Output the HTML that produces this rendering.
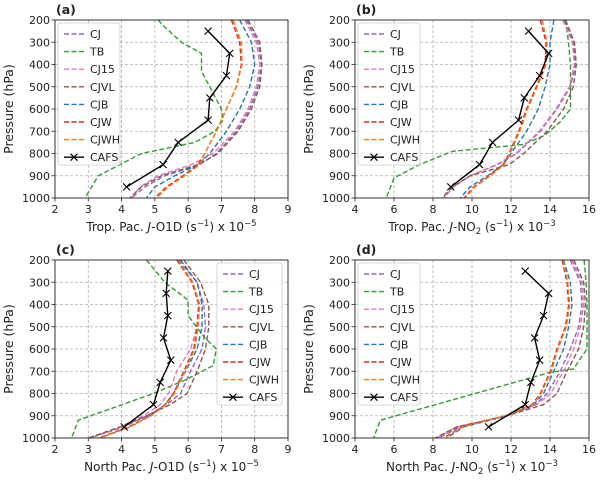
<!DOCTYPE html>
<html><head><meta charset="utf-8"><style>
html,body{margin:0;padding:0;background:#fff;}
svg text{font-family:"DejaVu Sans","Liberation Sans",sans-serif;fill:#222;}
</style></head><body>
<svg id="fig" width="600" height="479" viewBox="0 0 600 479" xmlns="http://www.w3.org/2000/svg"></svg>
<script>
const levels = [200,300,400,500,600,700,800,850,900,950,1000];
const seriesNames = ["CJ","TB","CJ15","CJVL","CJB","CJW","CJWH","CAFS"];
const cafsLevels = [250,350,450,550,650,750,850,950];
// Panel a
const aCJ=[7.75,8.1,8.2,8.1,7.85,7.45,6.85,6.35,5.3,4.7,4.3];
const aCJVL=[7.8,8.15,8.22,8.15,7.9,7.5,6.9,6.3,5.2,4.6,4.25];
const aCJ15=[7.7,8.05,8.15,8.05,7.8,7.4,6.75,6.1,5.1,4.55,4.3];
const aCJB=[7.55,7.9,8.0,7.85,7.55,7.15,6.65,6.3,5.6,5.0,4.75];
const aCJW=[7.3,7.55,7.6,7.45,7.15,6.85,6.5,6.3,5.85,5.35,5.0];
const aCJWH=[7.35,7.6,7.62,7.45,7.15,6.85,6.5,6.35,5.9,5.4,5.05];
const aTBp=[200,225,300,350,430,600,650,700,750,800,900,1000];
const aTB=[5.1,5.25,5.8,6.4,6.4,7.0,7.05,6.8,6.2,4.6,3.3,2.9];
const aCAFS=[6.6,7.25,7.15,6.65,6.6,5.7,5.25,4.15];
// Panel b
const bCJ=[14.7,15.2,15.3,15.05,14.36,13.5,12.3,11.3,9.9,9.05,8.55];
const bCJVL=[14.8,15.25,15.35,15.2,14.7,13.85,12.65,11.9,9.9,9.0,8.45];
const bCJ15=[14.65,15.15,15.25,15.0,14.3,13.45,12.25,11.25,9.9,9.05,8.55];
const bCJB=[14.2,14.0,14.0,13.75,13.4,12.8,12.0,11.6,10.8,9.9,9.4];
const bCJW=[13.5,13.8,13.75,13.3,12.8,12.4,11.9,11.6,10.9,10.1,9.6];
const bCJWH=[13.6,13.85,13.8,13.35,12.85,12.45,11.95,11.65,10.95,10.15,9.65];
const bTBp=[200,300,400,600,660,720,760,790,850,910,1000];
const bTB=[14.8,14.95,15.05,15.05,14.5,13.7,12.6,9.0,7.3,6.0,5.6];
const bCAFS=[12.9,13.93,13.47,12.68,12.39,11.05,10.39,8.91];
// Panel c
const cCJ=[5.71,6.27,6.47,6.52,6.42,6.07,5.77,5.36,4.76,4.06,3.05];
const cCJVL=[5.87,6.37,6.62,6.62,6.52,6.27,5.97,5.46,4.76,3.96,3.0];
const cCJ15=[5.66,6.12,6.32,6.27,6.07,5.66,5.41,5.16,4.66,3.96,3.05];
const cCJB=[5.77,6.27,6.42,6.42,6.27,5.92,5.56,5.31,4.86,4.26,3.36];
const cCJW=[5.66,6.12,6.32,6.27,6.17,5.87,5.56,5.31,4.86,4.21,3.31];
const cCJWH=[5.69,6.15,6.35,6.3,6.2,5.9,5.59,5.34,4.89,4.24,3.34];
const cTBp=[200,300,380,450,550,600,675,740,800,920,1000];
const cTB=[4.75,5.3,6.0,6.0,6.5,6.85,6.75,5.9,4.96,2.7,2.5];
const cCAFS=[5.39,5.34,5.39,5.26,5.48,5.16,4.96,4.08];
// Panel d
const dCJ=[15.04,15.56,15.64,15.47,15.04,14.53,13.85,13.25,11.79,9.39,8.28];
const dCJVL=[15.22,15.73,15.82,15.73,15.47,14.87,14.36,13.67,11.79,9.22,8.11];
const dCJ15=[15.13,15.64,15.73,15.56,15.22,14.7,14.02,13.33,11.79,9.22,8.2];
const dCJB=[14.7,15.04,15.13,14.96,14.7,14.19,13.67,13.16,11.79,9.57,8.71];
const dCJW=[14.62,14.87,14.96,14.79,14.36,14.02,13.5,13.08,11.7,9.48,8.54];
const dCJWH=[14.67,14.92,15.01,14.84,14.41,14.07,13.55,13.13,11.75,9.53,8.6];
const dTBp=[200,300,400,600,690,705,920,1000];
const dTB=[15.75,15.85,15.9,15.9,15.2,14.0,5.3,4.95];
const dCAFS=[12.73,13.93,13.67,13.21,13.47,13.02,12.73,10.85];
const yTicks=[200,300,400,500,600,700,800,900,1000];
const xTicksO1D=[2,3,4,5,6,7,8,9];
const xTicksNO2=[4,6,8,10,12,14,16];

const NS="http://www.w3.org/2000/svg";
const svg=document.getElementById('fig');
const colors={CJ:"#9467bd",TB:"#2ca02c",CJ15:"#e377c2",CJVL:"#8c564b",CJB:"#1f77b4",CJW:"#d62728",CJWH:"#ff7f0e",CAFS:"#000"};
function mk(tag,attrs,parent){const e=document.createElementNS(NS,tag);for(const k in attrs)e.setAttribute(k,attrs[k]);(parent||svg).appendChild(e);return e;}

const panels=[
 {id:"a",x0:55,x1:288,y0:20,y1:198,xmin:2,xmax:9,xt:xTicksO1D,reg:"Trop. Pac.",sp:"O1D",exp:"−5",d:{CJ:aCJ,CJ15:aCJ15,CJVL:aCJVL,CJB:aCJB,CJW:aCJW,CJWH:aCJWH},tb:[aTBp,aTB],cafs:aCAFS,leg:"left"},
 {id:"b",x0:355,x1:589,y0:20,y1:198,xmin:4,xmax:16,xt:xTicksNO2,reg:"Trop. Pac.",sp:"NO2",exp:"−3",d:{CJ:bCJ,CJ15:bCJ15,CJVL:bCJVL,CJB:bCJB,CJW:bCJW,CJWH:bCJWH},tb:[bTBp,bTB],cafs:bCAFS,leg:"left"},
 {id:"c",x0:55,x1:288,y0:260,y1:438,xmin:2,xmax:9,xt:xTicksO1D,reg:"North Pac.",sp:"O1D",exp:"−5",d:{CJ:cCJ,CJ15:cCJ15,CJVL:cCJVL,CJB:cCJB,CJW:cCJW,CJWH:cCJWH},tb:[cTBp,cTB],cafs:cCAFS,leg:"right"},
 {id:"d",x0:355,x1:589,y0:260,y1:438,xmin:4,xmax:16,xt:xTicksNO2,reg:"North Pac.",sp:"NO2",exp:"−3",d:{CJ:dCJ,CJ15:dCJ15,CJVL:dCJVL,CJB:dCJB,CJW:dCJW,CJWH:dCJWH},tb:[dTBp,dTB],cafs:dCAFS,leg:"left"}
];

panels.forEach(p=>{
 const g=mk('g',{});
 
 
 const sx=v=>p.x0+(v-p.xmin)/(p.xmax-p.xmin)*(p.x1-p.x0);
 const sy=v=>p.y0+(v-200)/800*(p.y1-p.y0);
 p.xt.forEach(t=>{const l=mk('line',{x1:sx(t),x2:sx(t),y1:p.y0,y2:p.y1,stroke:"#b0b0b0","stroke-width":0.8,"stroke-dasharray":"3,2"},g);
  
  
  mk('line',{x1:sx(t),x2:sx(t),y1:p.y1,y2:p.y1+3.5,stroke:"#222","stroke-width":0.8},g);
  const tx=mk('text',{x:sx(t),y:p.y1+15,"text-anchor":"middle","font-size":11},g);tx.textContent=t;
  
  });
 yTicks.forEach(t=>{const l=mk('line',{x1:p.x0,x2:p.x1,y1:sy(t),y2:sy(t),stroke:"#b0b0b0","stroke-width":0.8,"stroke-dasharray":"3,2"},g);
  
  
  mk('line',{x1:p.x0-3.5,x2:p.x0,y1:sy(t),y2:sy(t),stroke:"#222","stroke-width":0.8},g);
  const tx=mk('text',{x:p.x0-5,y:sy(t)+4,"text-anchor":"end","font-size":11},g);tx.textContent=t;
  
  });
 const clip=mk('clipPath',{id:'clip'+p.id},g);mk('rect',{x:p.x0,y:p.y0,width:p.x1-p.x0,height:p.y1-p.y0},clip);
 const pg=mk('g',{"clip-path":`url(#clip${p.id})`},g);
 function line(xs,ps,name,dashed){const pts=xs.map((v,i)=>sx(v).toFixed(1)+","+sy(ps[i]).toFixed(1)).join(" ");
  const pl=mk('polyline',{points:pts,fill:"none",stroke:colors[name],"stroke-width":1.4,"stroke-dasharray":dashed?"5,2.5":"none"},pg);
  
  return pl;}
 ["CJ","TB","CJ15","CJVL","CJB","CJW","CJWH"].forEach(n=>{
  if(n==="TB")line(p.tb[1],p.tb[0],"TB",true);else line(p.d[n],levels,n,true);});
 line(p.cafs,cafsLevels,"CAFS",false);
 p.cafs.forEach((v,i)=>{const x=sx(v),y=sy(cafsLevels[i]);
  const m=mk('path',{d:`M${x-3.5},${y-3.5}L${x+3.5},${y+3.5}M${x-3.5},${y+3.5}L${x+3.5},${y-3.5}`,stroke:"#000","stroke-width":1.1},pg);
  
  });
 mk('rect',{x:p.x0,y:p.y0,width:p.x1-p.x0,height:p.y1-p.y0,fill:"none",stroke:"#222","stroke-width":0.9},g);
 const lab=mk('text',{x:p.x0+1,y:p.y0-6,"font-size":12.5,"font-weight":"bold"},g);lab.textContent="("+p.id+")";
 
 
 const yl=mk('text',{x:0,y:0,"font-size":12.5,"text-anchor":"middle",transform:`translate(${p.x0-42},${(p.y0+p.y1)/2}) rotate(-90)`},g);yl.textContent="Pressure (hPa)";
 
 
 const xl=mk('text',{x:(p.x0+p.x1)/2,y:p.y1+33,"font-size":12,"text-anchor":"middle"},g);
 
 
 let s=p.reg+" <tspan font-style=\"italic\">J</tspan>-";
 s+= p.sp==="NO2" ? "NO<tspan font-size=\"8.5\" dy=\"3\">2</tspan><tspan dy=\"-3\"> (s</tspan>" : "O1D (s";
 s+="<tspan font-size=\"8.5\" dy=\"-5\">−1</tspan><tspan dy=\"5\">) x 10</tspan><tspan font-size=\"8.5\" dy=\"-5\">"+p.exp+"</tspan>";
 xl.innerHTML=s;
 const lx=p.leg==="left"?p.x0+3:p.x1-71, ly=p.y0+3, lw=p.leg==="left"?62:65;
 const lg=mk('g',{},g);
 
 
 mk('rect',{x:lx,y:ly,width:lw,height:142,rx:2,fill:"#fff","fill-opacity":0.85,stroke:"#ccc","stroke-width":0.8},lg);
 seriesNames.forEach((n,i)=>{const yy=ly+11+i*17.6;
  const e=mk('g',{},lg);
  
  
  mk('line',{x1:lx+6,x2:lx+26,y1:yy,y2:yy,stroke:colors[n],"stroke-width":1.4,"stroke-dasharray":n==="CAFS"?"none":"5,2.5"},e);
  if(n==="CAFS")mk('path',{d:`M${lx+12.5},${yy-3.5}L${lx+19.5},${yy+3.5}M${lx+12.5},${yy+3.5}L${lx+19.5},${yy-3.5}`,stroke:"#000","stroke-width":1.1},e);
  const t=mk('text',{x:lx+32,y:yy+4,"font-size":11},e);t.textContent=n;});
});
</script>
</body></html>
